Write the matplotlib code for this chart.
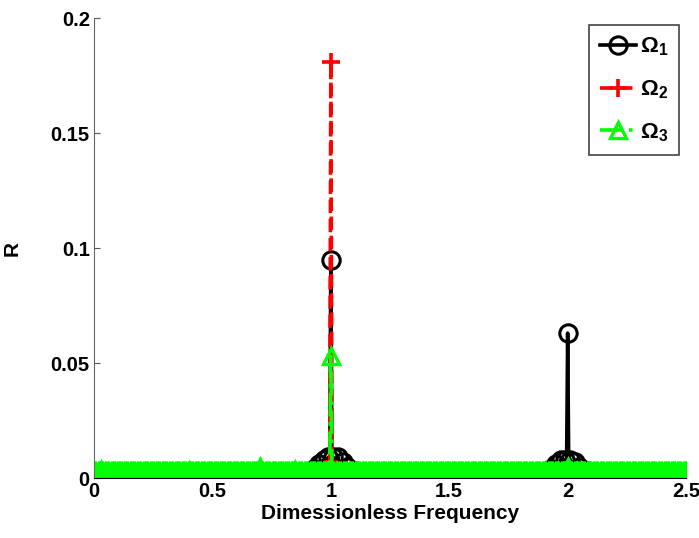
import numpy as np
import matplotlib
matplotlib.use('Agg')
import matplotlib.pyplot as plt

plt.rcParams['font.family'] = ['Liberation Sans', 'DejaVu Sans']
plt.rcParams['font.weight'] = 'bold'
plt.rcParams['mathtext.fontset'] = 'custom'
plt.rcParams['mathtext.rm'] = 'Liberation Sans:bold'
plt.rcParams['mathtext.it'] = 'Liberation Sans:bold'

# frequency samples (dimensionless)
freq = np.round(np.arange(0, 2.5001, 0.005), 3)

# baseline response level of each series
base1 = 0.0
base2 = 0.0
base3 = 0.0024

# Omega_1 (black) peaks
om1_f = [0.90, 0.93, 0.95, 0.97, 0.99, 1.00, 1.01, 1.03, 1.05, 1.07, 1.10, 1.13,
         1.89, 1.93, 1.95, 1.97, 1.99, 2.00, 2.01, 2.03, 2.05, 2.08, 2.12]
om1_r = [0.002, 0.004, 0.006, 0.008, 0.009, 0.095, 0.009, 0.009, 0.007, 0.005, 0.003, 0.001,
         0.002, 0.004, 0.006, 0.008, 0.008, 0.063, 0.008, 0.007, 0.005, 0.003, 0.001]

# Omega_2 (red) peaks
om2_f = [0.98, 1.00, 1.02]
om2_r = [0.004, 0.181, 0.004]

# Omega_3 (green) peaks
om3_f = [0.03, 0.40, 0.70, 0.85, 1.00, 2.00]
om3_r = [0.0033, 0.0031, 0.0046, 0.0033, 0.053, 0.0046]


def build(base, pf, pr):
    r = np.full(freq.shape, base)
    for f, v in zip(pf, pr):
        r[np.argmin(np.abs(freq - f))] = v
    return r


R1 = build(base1, om1_f, om1_r)
R2 = build(base2, om2_f, om2_r)
R3 = build(base3, om3_f, om3_r)

fig = plt.figure(figsize=(6.99, 5.38), dpi=100)
ax = fig.add_axes([0.1345, 0.1115, 0.847, 0.855])

ax.plot(freq, R1, color='black', lw=2.6, marker='o', ms=12.5, mfc='none', mew=2.2,
        label=r'$\Omega_1$')
ax.plot(freq, R2, color='red', lw=2.6, ls='--', marker='+', ms=13, mew=2.6,
        label=r'$\Omega_2$')
ax.plot(freq, R3, color='#00ff00', lw=2.6, ls='-.', marker='^', ms=11.5, mfc='none', mew=2.4,
        label=r'$\Omega_3$')

ax.set_xlim(0, 2.5)
ax.set_ylim(0, 0.2)
ax.set_xticks([0, 0.5, 1, 1.5, 2, 2.5])
ax.set_xticklabels(['0', '0.5', '1', '1.5', '2', '2.5'])
ax.set_yticks([0, 0.05, 0.1, 0.15, 0.2])
ax.set_yticklabels(['0', '0.05', '0.1', '0.15', '0.2'])
ax.tick_params(direction='in', length=4, labelsize=14.5, colors='#555555', labelcolor='black', pad=3)
for t in ax.get_xticklabels() + ax.get_yticklabels():
    t.set_fontweight('bold')

ax.spines['top'].set_visible(False)
ax.spines['right'].set_visible(False)
ax.spines['left'].set_color('#666666')
ax.spines['bottom'].set_color('black')

ax.set_xlabel('Dimessionless Frequency', fontsize=15, fontweight='bold', labelpad=2)
ax.set_ylabel('R', fontsize=15, fontweight='bold')
ax.yaxis.set_label_coords(-0.122, 0.5)

leg = ax.legend(loc='upper right', fontsize=16, handlelength=1.6, handletextpad=0.2,
                borderpad=0.5, labelspacing=0.9, fancybox=False, framealpha=1,
                borderaxespad=0.3)
leg.get_frame().set_edgecolor('#444444')
leg.get_frame().set_linewidth(1.2)

fig.savefig('out.png', dpi=100)
